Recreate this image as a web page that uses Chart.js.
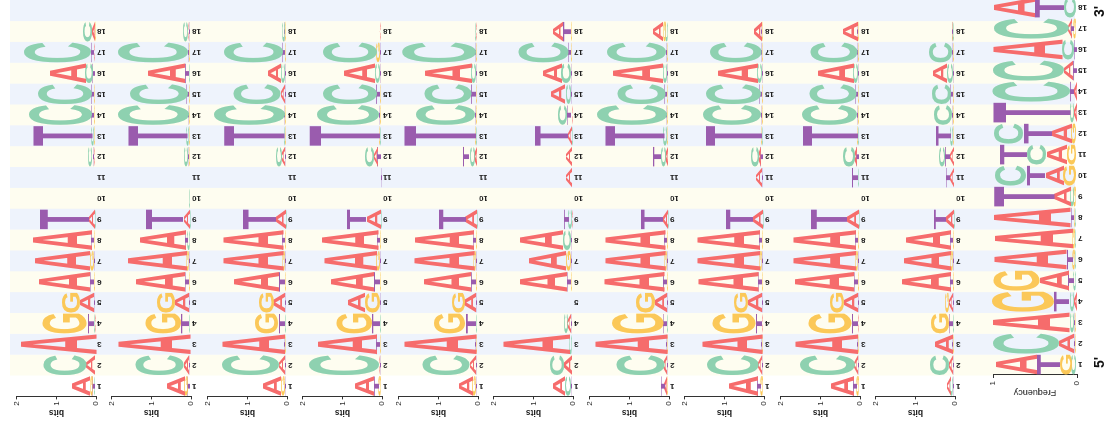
<!DOCTYPE html>
<html>
<head>
<meta charset="utf-8">
<script src="https://cdn.jsdelivr.net/npm/chart.js@4.4.1/dist/chart.umd.min.js"></script>
<style>
    html, body { margin: 0; padding: 0; background: #fff; overflow: hidden; width: 1108px; height: 425px; }
    #stage { position: absolute; left: 0; top: 425px; width: 430px; height: 1108px; transform-origin: 0 0; transform: rotate(-90deg); }
    #stage canvas { position: absolute; left: 0; }
</style>
</head>
<body>
<div id="stage"></div>
<script>
'use strict';

// positions along the motif, axis ticks, strand ends
var positionLabels = ['1', '2', '3', '4', '5', '6', '7', '8', '9', '10', '11', '12', '13', '14', '15', '16', '17', '18'];
var bitsTicks = [0, 1, 2];
var freqTicks = [0, 1];
var endLabels = ["5'", "3'"];
var letters = ['A', 'C', 'G', 'T'];

// information content (bits) per letter, one row per logo, positions 1..18
var bitsA = [
    [0.47, 0.22, 1.93, 0.03, 0.35, 1.30, 1.40, 1.50, 0.15, 0, 0, 0.03, 0.02, 0.02, 0.02, 0.92, 0.04, 0.06],
    [0.47, 0.14, 1.85, 0.02, 0.35, 1.25, 1.50, 1.18, 0.16, 0, 0, 0.02, 0.02, 0.02, 0.02, 0.94, 0.02, 0.03],
    [0.45, 0.17, 1.60, 0.02, 0.28, 1.15, 1.55, 1.55, 0.25, 0, 0, 0.08, 0.02, 0.02, 0.10, 0.32, 0.02, 0.02],
    [0.50, 0.03, 1.50, 0.02, 0.41, 1.12, 1.35, 1.45, 0.37, 0, 0, 0.10, 0.02, 0.02, 0.02, 0.80, 0.02, 0.02],
    [0.35, 0.16, 1.85, 0.02, 0.28, 1.22, 1.53, 1.50, 0.28, 0, 0, 0.06, 0.02, 0.02, 0.02, 1.20, 0.02, 0.02],
    [0.30, 0.20, 1.72, 0.08, 0, 1.20, 0.95, 1.10, 0.02, 0, 0.15, 0.15, 0.10, 0.03, 0.35, 0.50, 0.02, 0.25],
    [0.06, 0.08, 1.85, 0.02, 0.30, 1.55, 1.55, 1.55, 0.12, 0, 0, 0.06, 0.02, 0.02, 0.02, 1.28, 0.02, 0.25],
    [0.75, 0.10, 1.55, 0.03, 0.35, 1.55, 1.60, 1.60, 0.25, 0, 0.15, 0.06, 0.02, 0.02, 0.02, 1.00, 0.02, 0.20],
    [0.60, 0.10, 1.60, 0.03, 0.35, 1.50, 1.60, 1.60, 0.30, 0, 0.02, 0.06, 0.02, 0.02, 0.02, 0.90, 0.02, 0.40],
    [0.08, 0.10, 0.45, 0.02, 0.10, 1.25, 1.20, 1.15, 0.20, 0, 0.10, 0.10, 0.02, 0.02, 0.02, 0.35, 0.02, 0.02]
];
var bitsC = [
    [0.03, 1.10, 0, 0.03, 0.02, 0.02, 0.02, 0.02, 0.02, 0, 0, 0.08, 0.06, 1.58, 1.35, 0.18, 1.70, 0.22],
    [0.02, 1.22, 0.02, 0.02, 0.02, 0.02, 0.02, 0.05, 0.02, 0.05, 0, 0.10, 0.05, 1.80, 1.45, 0.04, 1.75, 0.12],
    [0.02, 1.42, 0.02, 0.02, 0.02, 0.02, 0.02, 0.02, 0.02, 0, 0, 0.15, 0.03, 1.80, 1.18, 0.10, 1.50, 0.05],
    [0.02, 1.76, 0.02, 0.02, 0.02, 0.02, 0.02, 0.02, 0.02, 0, 0, 0.22, 0.02, 1.57, 1.37, 0.14, 1.37, 0.01],
    [0.02, 1.18, 0.02, 0.02, 0.02, 0.02, 0.02, 0.02, 0.02, 0, 0, 0.14, 0.02, 1.50, 1.20, 0.12, 1.85, 0.02],
    [0.15, 0.35, 0.05, 0.08, 0, 0.02, 0.02, 0.20, 0.08, 0, 0.01, 0.01, 0.02, 0.23, 0.14, 0.25, 1.25, 0.02],
    [0.02, 1.22, 0.02, 0.02, 0.02, 0.02, 0.02, 0.02, 0.02, 0, 0, 0.12, 0.08, 1.75, 1.22, 0.10, 1.50, 0.06],
    [0.02, 1.30, 0.02, 0.02, 0.02, 0.02, 0.02, 0.02, 0.02, 0, 0.02, 0.20, 0.02, 1.45, 1.40, 0.12, 1.30, 0.02],
    [0.02, 1.40, 0.02, 0.02, 0.02, 0.02, 0.02, 0.02, 0.02, 0, 0.02, 0.30, 0.02, 1.40, 1.20, 0.12, 1.20, 0.02],
    [0.05, 0.50, 0.02, 0.02, 0.02, 0.02, 0.02, 0.02, 0.02, 0, 0.02, 0.15, 0.05, 0.45, 0.50, 0.15, 0.60, 0.02]
];
var bitsG = [
    [0.06, 0.01, 0, 1.13, 0.45, 0.02, 0.10, 0.02, 0.01, 0, 0, 0.02, 0.02, 0.02, 0.02, 0.02, 0.02, 0.02],
    [0.08, 0.02, 0, 0.90, 0.47, 0.02, 0.07, 0.02, 0.01, 0, 0, 0.02, 0.02, 0.02, 0.02, 0.02, 0.02, 0.02],
    [0.10, 0.02, 0.02, 0.60, 0.40, 0.02, 0.06, 0.02, 0.01, 0, 0, 0.02, 0.02, 0.02, 0.02, 0.02, 0.02, 0.02],
    [0.05, 0.02, 0.02, 0.90, 0.40, 0.02, 0.08, 0.02, 0.01, 0, 0, 0.02, 0.02, 0.02, 0.02, 0.02, 0.08, 0.01],
    [0.08, 0.02, 0.02, 0.78, 0.32, 0.02, 0.05, 0.02, 0.01, 0, 0, 0.02, 0.02, 0.02, 0.02, 0.02, 0.02, 0.01],
    [0.02, 0.01, 0.01, 0.02, 0, 0.02, 0.13, 0.02, 0.01, 0, 0, 0, 0.01, 0.01, 0.02, 0.02, 0.02, 0.02],
    [0.02, 0.02, 0.02, 1.30, 0.50, 0.02, 0.05, 0.02, 0.01, 0, 0, 0.02, 0.02, 0.02, 0.02, 0.02, 0.02, 0.06],
    [0.05, 0.02, 0.02, 1.10, 0.35, 0.02, 0.05, 0.02, 0.01, 0, 0, 0.02, 0.02, 0.02, 0.02, 0.02, 0.02, 0.02],
    [0.05, 0.02, 0.02, 1.10, 0.35, 0.02, 0.05, 0.02, 0.01, 0, 0, 0.02, 0.02, 0.02, 0.02, 0.02, 0.02, 0.02],
    [0.02, 0.02, 0.02, 0.45, 0.10, 0.02, 0.05, 0.02, 0.01, 0, 0, 0.02, 0.02, 0.02, 0.02, 0.02, 0.02, 0.02]
];
var bitsT = [
    [0.05, 0.01, 0, 0.17, 0.02, 0.10, 0.02, 0.07, 1.25, 0, 0, 0.04, 1.50, 0.06, 0.06, 0.06, 0.06, 0.01],
    [0.06, 0.02, 0, 0.20, 0.02, 0.10, 0.02, 0.05, 0.95, 0, 0, 0.04, 1.50, 0.02, 0.05, 0.08, 0.04, 0.02],
    [0.03, 0.02, 0.02, 0.17, 0.02, 0.15, 0.02, 0.06, 0.85, 0, 0, 0.02, 1.53, 0.02, 0.04, 0.02, 0.06, 0.02],
    [0.12, 0.02, 0.08, 0.20, 0.02, 0.16, 0.02, 0.06, 0.50, 0, 0.05, 0.08, 1.80, 0.04, 0.08, 0.02, 0.02, 0.01],
    [0.02, 0.02, 0.02, 0.27, 0.02, 0.13, 0.02, 0.05, 0.70, 0, 0, 0.16, 1.85, 0.04, 0.12, 0.02, 0.02, 0.01],
    [0.03, 0.01, 0.01, 0.02, 0, 0.10, 0.02, 0.02, 0.12, 0, 0.01, 0.01, 0.85, 0.10, 0.04, 0.02, 0.07, 0.20],
    [0.10, 0.02, 0.02, 0.10, 0.02, 0.08, 0.02, 0.05, 0.55, 0, 0, 0.20, 1.50, 0.02, 0.05, 0.02, 0.04, 0.02],
    [0.08, 0.02, 0.02, 0.15, 0.02, 0.10, 0.02, 0.05, 0.70, 0, 0.02, 0.05, 1.45, 0.04, 0.05, 0.02, 0.02, 0.02],
    [0.08, 0.02, 0.02, 0.15, 0.02, 0.10, 0.02, 0.05, 0.90, 0.02, 0.15, 0.05, 1.40, 0.04, 0.05, 0.02, 0.02, 0.02],
    [0.02, 0.02, 0.02, 0.10, 0.02, 0.05, 0.02, 0.05, 0.30, 0, 0.10, 0.12, 0.40, 0.04, 0.05, 0.02, 0.02, 0.02]
];

// letter frequencies of the combined logo
var freqA = [0.50, 0.18, 0.92, 0.04, 0.35, 0.87, 0.95, 0.93, 0.20, 0.22, 0.24, 0.24, 0.04, 0.03, 0.10, 0.83, 0.04, 0.50];
var freqC = [0.06, 0.78, 0.04, 0.05, 0.03, 0.02, 0.02, 0.02, 0.04, 0.38, 0.24, 0.36, 0.04, 0.92, 0.85, 0.14, 0.90, 0.15];
var freqG = [0.14, 0.02, 0.02, 0.73, 0.55, 0.03, 0.03, 0.02, 0.03, 0.16, 0.12, 0.06, 0, 0, 0, 0, 0.03, 0];
var freqT = [0.28, 0.02, 0.02, 0.18, 0.07, 0.08, 0, 0.03, 0.73, 0.22, 0.32, 0.34, 0.92, 0.05, 0.05, 0.03, 0.03, 0.35];

var letterColors = { A: '#f66c6c', C: '#8ed1b0', G: '#fbc858', T: '#9a5cae' };
var bandColors = { even: '#fefdf0', odd: '#eef3fc' };
var fontFamily = '"Liberation Sans", Arial, sans-serif';
var glyphFont = 'bold 100px ' + fontFamily;
var glyphCache = {};

Chart.defaults.font.family = fontFamily;

function glyphMetrics(ctx, letter) {
    if (!glyphCache[letter]) {
        ctx.save();
        ctx.font = glyphFont;
        var m = ctx.measureText(letter);
        ctx.restore();
        glyphCache[letter] = {
            left: m.actualBoundingBoxLeft,
            width: m.actualBoundingBoxLeft + m.actualBoundingBoxRight,
            ascent: m.actualBoundingBoxAscent,
            height: m.actualBoundingBoxAscent + m.actualBoundingBoxDescent
        };
    }
    return glyphCache[letter];
}

function drawGlyph(ctx, letter, x, y, w, h) {
    var g = glyphMetrics(ctx, letter);
    ctx.save();
    ctx.translate(x, y);
    ctx.scale(w / g.width, h / g.height);
    ctx.font = glyphFont;
    ctx.textAlign = 'left';
    ctx.textBaseline = 'alphabetic';
    ctx.fillStyle = letterColors[letter];
    ctx.fillText(letter, g.left, g.ascent);
    ctx.restore();
}

// the stacked bars are invisible, each one is filled with its letter
var glyphPlugin = {
    id: 'glyphs',
    afterDatasetsDraw: function (chart) {
        var ctx = chart.ctx;
        chart.data.datasets.forEach(function (dataset, di) {
            chart.getDatasetMeta(di).data.forEach(function (bar, i) {
                var top = Math.min(bar.y, bar.base);
                var h = Math.abs(bar.base - bar.y);
                if (h < 0.4) {
                    return;
                }
                drawGlyph(ctx, dataset.glyphs[i], bar.x - bar.width / 2, top, bar.width, h);
            });
        });
    }
};

function makeBandPlugin(getRefChart, getBottom) {
    return {
        id: 'bands',
        beforeDraw: function (chart) {
            var ref = getRefChart() || chart;
            var xs = ref.scales.x;
            var ctx = chart.ctx;
            var n = positionLabels.length;
            var slot = (xs.right - xs.left) / n;
            var bottom = getBottom(chart);
            ctx.save();
            for (var i = 1; i <= n; i++) {
                var x0 = xs.left + i * slot;
                var x1 = i === n ? chart.width : x0 + slot;
                ctx.fillStyle = (i + 1) % 2 === 0 ? bandColors.even : bandColors.odd;
                ctx.fillRect(x0, 0, x1 - x0 + 0.5, bottom);
            }
            ctx.restore();
        }
    };
}

var endLabelPlugin = {
    id: 'endLabels',
    afterDraw: function (chart) {
        var xs = chart.scales.x;
        var ctx = chart.ctx;
        ctx.save();
        ctx.font = 'bold 14px ' + fontFamily;
        ctx.fillStyle = '#111';
        ctx.textAlign = 'center';
        ctx.textBaseline = 'middle';
        ctx.fillText(endLabels[0], xs.getPixelForTick(0) + 2, 135);
        ctx.fillText(endLabels[1], xs.getPixelForTick(positionLabels.length - 1) - 4, 135);
        ctx.restore();
    }
};

// one dataset per rank: smallest letter sits on the axis, largest on top
function rankedDatasets(rows) {
    var ranked = [[], [], [], []];
    positionLabels.forEach(function (label, p) {
        var items = letters.map(function (letter, li) {
            return { letter: letter, value: rows[li][p], order: li };
        });
        items.sort(function (a, b) { return a.value - b.value || a.order - b.order; });
        items.forEach(function (item, r) { ranked[r].push(item); });
    });
    return ranked.map(function (items, r) {
        return {
            label: 'rank ' + (r + 1),
            data: items.map(function (item) { return item.value; }),
            glyphs: items.map(function (item) { return item.letter; }),
            backgroundColor: 'rgba(0,0,0,0)',
            borderWidth: 0,
            stack: 'logo',
            barPercentage: 0.95,
            categoryPercentage: 1
        };
    });
}

function addCanvas(top, width, height) {
    var canvas = document.createElement('canvas');
    canvas.width = width;
    canvas.height = height;
    canvas.style.top = top + 'px';
    canvas.style.width = width + 'px';
    canvas.style.height = height + 'px';
    document.getElementById('stage').appendChild(canvas);
    return canvas;
}

function logoOptions(cfg) {
    return {
        responsive: false,
        animation: false,
        devicePixelRatio: 1,
        layout: { padding: cfg.padding },
        plugins: { legend: { display: false }, tooltip: { enabled: false } },
        scales: {
            x: {
                stacked: true,
                offset: true,
                grid: { display: false, drawTicks: false },
                border: { display: false },
                ticks: {
                    autoSkip: false, maxRotation: 90, minRotation: 90, padding: 1,
                    color: '#222', font: { size: 8, weight: 'bold' }
                },
                afterFit: function (scale) { scale.height = cfg.xHeight; }
            },
            y: {
                stacked: true,
                min: 0,
                max: cfg.max,
                afterBuildTicks: function (scale) {
                    scale.ticks = cfg.ticks.map(function (v) { return { value: v }; });
                },
                ticks: { padding: cfg.tickPad, color: '#222', font: { size: 8 } },
                grid: { drawOnChartArea: false, drawTicks: true, tickLength: 3, color: '#333' },
                border: { display: true, color: '#333', width: 1 },
                title: {
                    display: true, text: cfg.title, color: '#222',
                    font: { size: cfg.titleSize, weight: cfg.titleWeight },
                    padding: { top: cfg.titlePad, bottom: 0 }
                },
                afterFit: function (scale) { scale.width = cfg.yWidth; }
            }
        }
    };
}

var bitsCharts = [];
var pitch = 95.5;

bitsA.forEach(function (row, k) {
    var top = Math.round(9.7 + pitch * k);
    var height = Math.round(9.7 + pitch * (k + 1)) - top;
    var canvas = addCanvas(top, 425, height);
    var rows = [bitsA[k], bitsC[k], bitsG[k], bitsT[k]];
    bitsCharts.push(new Chart(canvas, {
        type: 'bar',
        data: { labels: positionLabels, datasets: rankedDatasets(rows) },
        options: logoOptions({
            padding: { top: 1, right: 21.1, left: 0, bottom: 0 },
            xHeight: height - 86,
            max: 2,
            ticks: bitsTicks,
            tickPad: 2,
            title: 'bits',
            titleSize: 8.5,
            titleWeight: 'bold',
            titlePad: 7.5,
            yWidth: 28.6
        }),
        plugins: [makeBandPlugin(function () { return null; }, function (chart) { return chart.height; }), glyphPlugin]
    }));
});

var freqCanvas = addCanvas(965, 430, 143);
var freqChart = new Chart(freqCanvas, {
    type: 'bar',
    data: { labels: positionLabels, datasets: rankedDatasets([freqA, freqC, freqG, freqT]) },
    options: logoOptions({
        padding: { top: 28, right: 2, left: 0, bottom: 0 },
        xHeight: 31,
        max: 1,
        ticks: freqTicks,
        tickPad: 3,
        title: 'Frequency',
        titleSize: 9,
        titleWeight: 'normal',
        titlePad: 27.5,
        yWidth: 50
    }),
    plugins: [
        makeBandPlugin(function () { return bitsCharts[0]; }, function (chart) { return chart.chartArea.bottom - 2; }),
        glyphPlugin,
        endLabelPlugin
    ]
});
</script>
</body>
</html>
